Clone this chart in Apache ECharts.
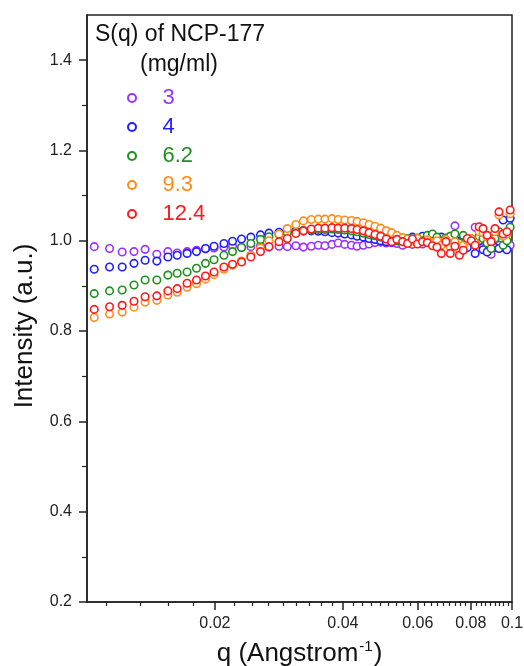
<!DOCTYPE html>
<html>
<head>
<meta charset="utf-8">
<script src="https://cdn.jsdelivr.net/npm/echarts@6/dist/echarts.min.js"></script>
<style>html,body{margin:0;padding:0;background:#fff}#c{width:524px;height:666px}</style>
</head>
<body>
<div id="c"></div>
<script>
const seriesNames = ['3', '4', '6.2', '9.3', '12.4'];
const seriesColors = ['#9b30ff', '#1f1fff', '#1f8f1f', '#ff8c1a', '#ff1a1a'];

const q = [0.0104,0.0113,0.0121,0.0129,0.0137,0.0146,0.0155,0.0163,0.0172,0.0181,
0.0190,0.0199,0.0210,0.0220,0.0231,0.0243,0.0256,0.0268,0.0283,0.0296,
0.0310,0.0323,0.0337,0.0350,0.0363,0.0377,0.0390,0.0404,0.0419,0.0432,
0.0447,0.0461,0.0476,0.0491,0.0506,0.0521,0.0536,0.0553,0.0568,0.0583,
0.0599,0.0616,0.0632,0.0650,0.0666,0.0682,0.0699,0.0716,0.0734,0.0752,
0.0768,0.0785,0.0802,0.0819,0.0837,0.0855,0.0874,0.0893,0.0912,0.0932,
0.0953,0.0973,0.0990];

const s3 = [0.987,0.983,0.975,0.976,0.981,0.970,0.976,0.973,0.976,0.979,
0.982,0.984,0.986,0.988,0.985,0.987,0.989,0.986,0.988,0.987,
0.989,0.986,0.988,0.990,0.989,0.992,0.995,0.992,0.990,0.988,
0.990,0.993,0.996,0.997,0.995,0.996,0.994,0.990,0.995,0.992,
0.996,0.993,0.998,0.995,0.992,0.998,1.005,0.995,1.033,0.998,
1.000,0.995,1.003,1.030,0.995,0.985,0.990,0.970,1.000,0.990,
0.985,0.995,0.990];

const s4 = [0.937,0.942,0.942,0.950,0.957,0.955,0.964,0.968,0.972,0.976,
0.983,0.988,0.994,0.999,1.004,1.008,1.013,1.017,1.019,1.021,
1.022,1.022,1.022,1.021,1.020,1.018,1.017,1.015,1.013,1.010,
1.008,1.005,1.003,1.000,0.998,0.997,1.000,1.005,0.998,1.008,
1.002,1.010,1.006,1.012,1.000,1.008,0.995,1.010,0.990,0.998,
0.990,0.985,1.000,0.972,1.000,0.980,0.975,1.010,0.985,0.983,
1.046,0.980,1.050];

const s62 = [0.883,0.889,0.891,0.902,0.913,0.913,0.924,0.928,0.931,0.939,
0.950,0.958,0.968,0.976,0.985,0.994,1.003,1.009,1.014,1.018,
1.020,1.022,1.024,1.025,1.025,1.026,1.025,1.024,1.022,1.020,
1.017,1.014,1.011,1.008,1.005,1.002,1.000,1.003,1.005,1.002,
1.006,1.000,1.012,1.015,1.008,1.000,1.006,1.010,1.015,0.995,
1.012,1.002,1.000,0.998,1.010,1.005,0.995,0.983,1.005,1.020,
0.990,1.000,1.030];

const s93 = [0.830,0.838,0.842,0.853,0.864,0.868,0.880,0.886,0.897,0.905,
0.915,0.925,0.937,0.946,0.955,0.968,0.984,1.000,1.015,1.027,
1.036,1.044,1.047,1.048,1.048,1.049,1.047,1.046,1.045,1.043,
1.040,1.036,1.032,1.028,1.022,1.018,1.012,1.007,1.004,1.000,
1.005,0.998,1.002,0.996,1.000,0.990,1.003,0.985,0.998,0.980,
0.990,1.000,1.005,0.995,1.020,1.018,1.008,1.000,1.020,1.057,
1.010,1.015,1.060];

const s124 = [0.848,0.854,0.857,0.866,0.876,0.878,0.889,0.894,0.906,0.913,
0.922,0.931,0.942,0.948,0.953,0.964,0.976,0.987,0.998,1.005,
1.016,1.022,1.026,1.028,1.028,1.029,1.028,1.028,1.027,1.025,
1.022,1.018,1.014,1.010,1.004,0.998,1.003,0.998,0.994,1.004,
0.993,0.998,0.996,0.989,0.986,0.972,0.998,0.972,0.988,0.968,
0.979,1.005,1.000,0.990,1.031,1.027,1.012,0.998,1.027,1.064,
1.015,1.020,1.068];

const xMajorTicks = [0.02, 0.04, 0.06, 0.08, 0.1];
const xMinorTicks = [];
for (let k = 5; k <= 44; k++) { if (k % 9 !== 0) xMinorTicks.push(+(k * 0.02 / 9).toFixed(6)); }
const yMajorTicks = [0.2, 0.4, 0.6, 0.8, 1.0, 1.2, 1.4];
const yMinorTicks = [0.3, 0.5, 0.7, 0.9, 1.1, 1.3];

const allValues = [s3, s4, s62, s93, s124];
const FONT = 'Liberation Sans, Arial, sans-serif';
const AX = '#222';

const chart = echarts.init(document.getElementById('c'), null, {renderer: 'canvas'});

const series = seriesNames.map((name, i) => ({
  name: name,
  type: 'scatter',
  xAxisIndex: 0,
  yAxisIndex: 0,
  symbol: 'circle',
  symbolSize: 7.5,
  itemStyle: {color: '#ffffff', borderColor: seriesColors[i], borderWidth: 1.6, opacity: 1},
  emphasis: {disabled: true},
  data: q.map((x, j) => [x, allValues[i][j]]),
  z: 2 + i
}));

const fmt = v => String(parseFloat(Number(v).toPrecision(3)));

chart.setOption({
  animation: false,
  backgroundColor: '#fff',
  grid: {left: 87, right: 12, top: 15, bottom: 64, show: true, borderColor: AX, borderWidth: 1.5,
         backgroundColor: 'transparent', containLabel: false, outerBoundsMode: 'none'},
  xAxis: [{
    type: 'log', logBase: 10, min: 0.01, max: 0.1,
    name: '{a|q (Angstrom}{b|-1}{a|)}', nameLocation: 'middle', nameGap: 37,
    nameTextStyle: {rich: {
      a: {fontSize: 26, fontFamily: FONT, color: '#111', lineHeight: 30},
      b: {fontSize: 15, fontFamily: FONT, color: '#111', verticalAlign: 'top', lineHeight: 30, padding: [0, 1, 0, 1]}
    }},
    axisLine: {show: true, onZero: false, lineStyle: {color: AX, width: 1.5}},
    axisTick: {show: true, inside: false, length: 8, lineStyle: {color: AX, width: 1.5}, customValues: xMajorTicks},
    axisLabel: {show: true, margin: 14, fontSize: 16, fontFamily: FONT, color: '#222', customValues: xMajorTicks, formatter: fmt},
    splitLine: {show: false}, minorTick: {show: false}
  }, {
    type: 'log', logBase: 10, min: 0.01, max: 0.1, position: 'bottom',
    axisLine: {show: false},
    axisTick: {show: true, inside: false, length: 4, lineStyle: {color: AX, width: 1.2}, customValues: xMinorTicks},
    axisLabel: {show: false},
    splitLine: {show: false}
  }],
  yAxis: [{
    type: 'value', min: 0.2, max: 1.5,
    axisLine: {show: true, onZero: false, lineStyle: {color: AX, width: 1.5}},
    axisTick: {show: true, inside: false, length: 8, lineStyle: {color: AX, width: 1.5}, customValues: yMajorTicks},
    axisLabel: {show: true, margin: 15, fontSize: 16, fontFamily: FONT, color: '#222', customValues: yMajorTicks, formatter: v => Number(v).toFixed(1)},
    splitLine: {show: false}
  }, {
    type: 'value', min: 0.2, max: 1.5, position: 'left',
    axisLine: {show: false},
    axisTick: {show: true, inside: false, length: 5, lineStyle: {color: AX, width: 1.2}, customValues: yMinorTicks},
    axisLabel: {show: false},
    splitLine: {show: false}
  }],
  legend: {
    orient: 'vertical', left: 127, top: 87, padding: 0,
    itemWidth: 51, itemHeight: 8, itemGap: 7, selectedMode: false,
    textStyle: {fontSize: 22, fontFamily: FONT, lineHeight: 21},
    data: seriesNames.map((n, i) => ({name: n, textStyle: {color: seriesColors[i]}}))
  },
  graphic: [
    {type: 'text', x: 95, y: 35, style: {text: 'S(q) of NCP-177', fontSize: 23, fontFamily: FONT, fill: '#111', verticalAlign: 'middle'}},
    {type: 'text', x: 140, y: 65, style: {text: '(mg/ml)', fontSize: 23, fontFamily: FONT, fill: '#111', verticalAlign: 'middle'}},
    {type: 'text', x: 25, y: 326, rotation: Math.PI / 2, style: {text: 'Intensity (a.u.)', fontSize: 26, fontFamily: FONT, fill: '#111', align: 'center', verticalAlign: 'middle'}}
  ],
  series: series
});
</script>
</body>
</html>
